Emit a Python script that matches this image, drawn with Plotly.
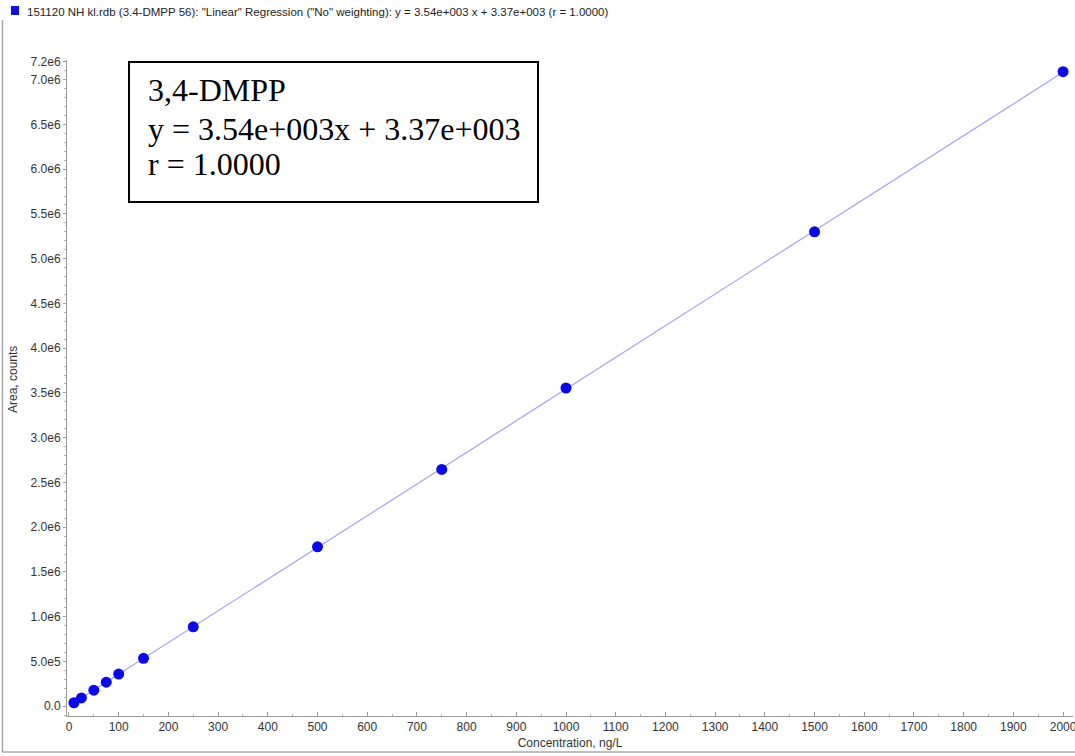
import plotly.graph_objects as go

# Calibration standards for 3,4-DMPP
concentration = [10, 25, 50, 75, 100, 150, 250, 500, 750, 1000, 1500, 2000]  # ng/L
area = [3.8e4, 9.2e4, 1.79e5, 2.68e5, 3.58e5, 5.35e5, 8.86e5, 1.78e6, 2.645e6, 3.555e6, 5.30e6, 7.09e6]

# Linear regression ("No" weighting)
slope = 3.54e3
intercept = 3.37e3
r_value = "1.0000"

y_tickvals = [0, 5e5, 1e6, 1.5e6, 2e6, 2.5e6, 3e6, 3.5e6, 4e6, 4.5e6, 5e6, 5.5e6, 6e6, 6.5e6, 7e6, 7.2e6]
y_ticktext = ["0.0", "5.0e5", "1.0e6", "1.5e6", "2.0e6", "2.5e6", "3.0e6", "3.5e6", "4.0e6",
              "4.5e6", "5.0e6", "5.5e6", "6.0e6", "6.5e6", "7.0e6", "7.2e6"]

W, H = 1075, 756
ML, MR, MT, MB = 67, 2, 60, 40
PW, PH = W - ML - MR, H - MT - MB


def px(xp):
    return (xp - ML) / PW


def py(yp):
    return (H - MB - yp) / PH


fit_x = [min(concentration), max(concentration)]
fit_y = [slope * v + intercept for v in fit_x]

fig = go.Figure()
fig.add_trace(go.Scatter(
    x=fit_x, y=fit_y, mode="lines",
    line=dict(color="#a3a3f0", width=1.2),
    hoverinfo="skip", showlegend=False,
))
fig.add_trace(go.Scatter(
    x=concentration, y=area, mode="markers",
    marker=dict(color="#0a0ae6", size=11, line=dict(width=0)),
    showlegend=False,
))

axis_font = dict(family="Liberation Sans, Arial, sans-serif", size=12, color="#333333")

fig.update_xaxes(
    range=[-4, 2020], dtick=100, tick0=0,
    showgrid=False, zeroline=False,
    showline=True, linecolor="#9a9a9a", linewidth=1,
    ticks="inside", ticklen=4, tickcolor="#9a9a9a",
    minor=dict(ticks="inside", ticklen=2, dtick=50, tickcolor="#b0b0b0"),
    tickfont=axis_font, ticklabeloverflow="allow", automargin=False,
    title=dict(text="Concentration, ng/L", font=axis_font, standoff=5),
)
fig.update_yaxes(
    range=[-1.1e5, 7.22e6],
    tickvals=y_tickvals, ticktext=y_ticktext,
    showgrid=False, zeroline=False,
    showline=True, linecolor="#9a9a9a", linewidth=1,
    ticks="outside", ticklen=3, tickcolor="#9a9a9a",
    minor=dict(ticks="outside", ticklen=2, dtick=1e5, tick0=0, tickcolor="#b0b0b0"),
    tickfont=axis_font, ticklabeloverflow="allow", automargin=False,
    title=None,
)

box_font = dict(family="Liberation Serif, Times New Roman, serif", size=32, color="#000000")
box_lines = [
    "3,4-DMPP",
    "y = %.2fe+003x + %.2fe+003" % (slope / 1e3, intercept / 1e3),
    "r = %s" % r_value,
]
box_line_mid = [90, 129, 164]

annotations = [
    # header line
    dict(x=px(25), y=py(12), xref="paper", yref="paper", xanchor="left", yanchor="middle",
         showarrow=False,
         text='151120 NH kl.rdb (3.4-DMPP 56): "Linear" Regression ("No" weighting): '
              'y = 3.54e+003 x + 3.37e+003 (r = 1.0000)',
         font=dict(family="Liberation Sans, Arial, sans-serif", size=11.5, color="#222222")),
    # y-axis title
    dict(x=px(13), y=py(380), xref="paper", yref="paper", xanchor="center", yanchor="middle",
         showarrow=False, textangle=-90, text="Area, counts", font=axis_font),
]
for txt, ym in zip(box_lines, box_line_mid):
    annotations.append(dict(
        x=px(146), y=py(ym), xref="paper", yref="paper", xanchor="left", yanchor="middle",
        showarrow=False, align="left", text=txt, font=box_font,
    ))

shapes = [
    # equation box
    dict(type="rect", xref="paper", yref="paper",
         x0=px(129), x1=px(538), y0=py(62), y1=py(202),
         line=dict(color="#000000", width=2), fillcolor="rgba(0,0,0,0)"),
    # legend swatch in header
    dict(type="rect", xref="paper", yref="paper",
         x0=px(11), x1=px(19), y0=py(15), y1=py(6),
         line=dict(width=0), fillcolor="#1010e0"),
    # window frame
    dict(type="line", xref="paper", yref="paper",
         x0=px(2.5), x1=px(2.5), y0=py(20), y1=py(752),
         line=dict(color="#a8a8a8", width=1.5)),
    dict(type="line", xref="paper", yref="paper",
         x0=px(2), x1=px(1075), y0=py(752), y1=py(752),
         line=dict(color="#a8a8a8", width=1.5)),
]

fig.update_layout(
    width=W, height=H,
    margin=dict(l=ML, r=MR, t=MT, b=MB, pad=0, autoexpand=False),
    paper_bgcolor="white", plot_bgcolor="white",
    annotations=annotations, shapes=shapes,
    showlegend=False,
)

fig.write_html("out.html")
